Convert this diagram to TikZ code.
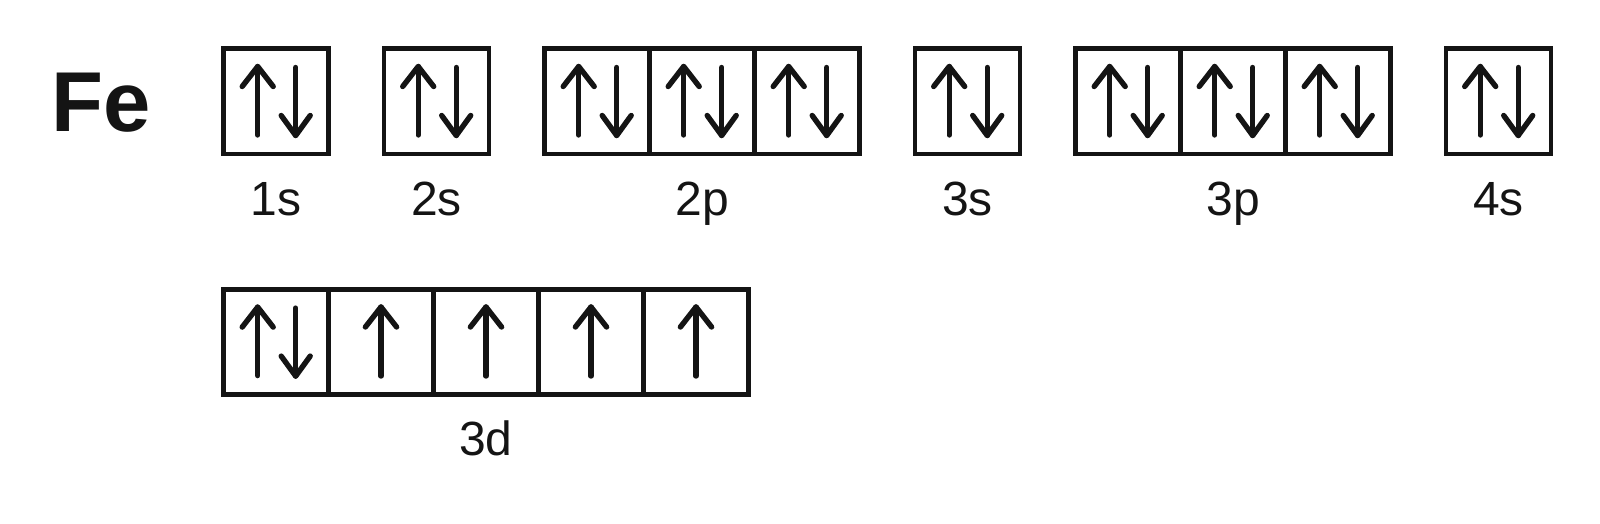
\documentclass[tikz,border=0pt]{standalone}
\usepackage{fontspec}
\setmainfont{Liberation Sans}
\definecolor{ink}{HTML}{141414}
\begin{document}
\begin{tikzpicture}[x=0.5pt,y=-0.5pt,
  orb/.style={draw=ink, line width=2.2pt, minimum width=52.5pt, minimum height=52.5pt, inner sep=0pt},
  lab/.style={font=\fontsize{24}{28}\selectfont, text=ink, anchor=base},
  spin/.style={line width=2.7pt, line cap=round, line join=round, draw=ink},
  pics/pair/.style={code={
    \draw[spin] (-18.3,33.8) -- (-18.3,-34.7);
    \draw[spin] (-33.8,-14.7) -- (-18.3,-34.7) -- (-2.8,-14.7);
    \draw[spin] (19.7,-33.7) -- (19.7,34.3);
    \draw[spin] (5.2,14.3) -- (19.7,34.3) -- (34.2,14.3);}},
  pics/single/.style={code={
    \draw[spin] (0,34.2) -- (0,-34.8);
    \draw[spin] (-15.6,-14.8) -- (0,-34.8) -- (15.6,-14.8);}}
]
\useasboundingbox (0,0) rectangle (1600,524);
\node[font=\fontsize{42.5}{48}\selectfont\bfseries, text=ink] (fe) at (101,103) {Fe};
% top row
\foreach \n/\cx in {s1/276, s2/436.5, pa/597, pb/702, pc/807, s3/967.5, qa/1128, qb/1233, qc/1338, s4/1498.5}{
  \node[orb] (\n) at (\cx,101.2) {};
  \pic at (\n.center) {pair};
}
% 3d row
\node[orb] (da) at (276,341.8) {};
\pic at (da.center) {pair};
\foreach \n/\cx in {db/381, dc/486, dd/591, de/696}{
  \node[orb] (\n) at (\cx,341.8) {};
  \pic at (\n.center) {single};
}
\node[lab] (l1s) at (276,215.7) {1s};
\node[lab] (l2s) at (436.5,215.7) {2s};
\node[lab] (l2p) at (702,215.7) {2p};
\node[lab] (l3s) at (967.5,215.7) {3s};
\node[lab] (l3p) at (1233,215.7) {3p};
\node[lab] (l4s) at (1498.5,215.7) {4s};
\node[lab] (l3d) at (486,455) {3d};
\end{tikzpicture}
\end{document}
